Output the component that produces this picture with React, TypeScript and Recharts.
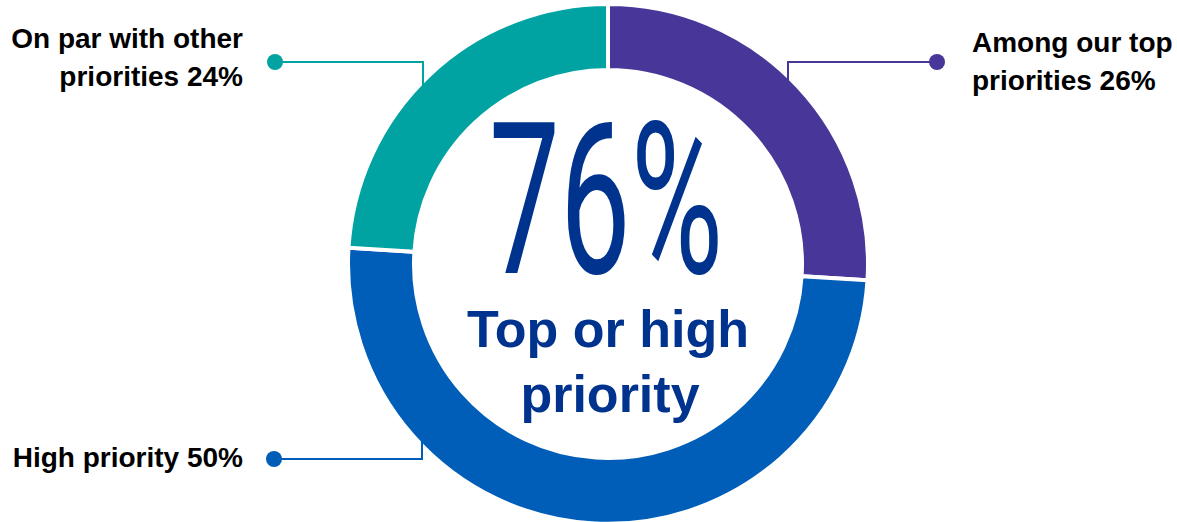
import { PieChart, Pie, Cell } from 'recharts'

const categories = ['Among our top priorities', 'High priority', 'On par with other priorities']
const shares = [26, 50, 24]
const labelLines = [
  ['Among our top', 'priorities 26%'],
  ['High priority 50%'],
  ['On par with other', 'priorities 24%'],
]
const headline = '76%'
const headlineSub = ['Top or high', 'priority']

const colors = ['#483698', '#005EB8', '#00A3A1']
const NAVY = '#00338D'

const W = 1177
const H = 522
const CX = 608
const CY = 264
const R_OUT = 260
const R_IN = 194

// callout layout per slice: elbow x offset from centre, dot offset, text side
const callouts = [
  { elbowDx: 180, dotY: 62, dotDx: 329, side: 'right', textX: 972, baselines: [52, 90] },
  { elbowDx: -186, dotY: 459, dotDx: -334, side: 'left', textX: 243, baselines: [467] },
  { elbowDx: -185, dotY: 62, dotDx: -333, side: 'left', textX: 243, baselines: [48, 86] },
]

const rows = categories.map((name, i) => ({ name, value: shares[i] }))

function renderCallout(props: any) {
  const { cx, cy, index } = props
  const c = callouts[index]
  const col = colors[index]
  const rVis = R_OUT - 2
  const ex = cx + c.elbowDx
  const dy = Math.sqrt(rVis * rVis - c.elbowDx * c.elbowDx)
  const ringY = c.dotY < cy ? cy - dy + 4 : cy + dy - 4
  const dx = cx + c.dotDx
  return (
    <g key={`callout-${index}`}>
      <polyline points={`${dx},${c.dotY} ${ex},${c.dotY} ${ex},${ringY}`} fill="none" stroke={col} strokeWidth={2} />
      <circle cx={dx} cy={c.dotY} r={8} fill={col} />
      {labelLines[index].map((t, j) => (
        <text
          key={j}
          x={c.textX}
          y={c.baselines[j]}
          textAnchor={c.side === 'left' ? 'end' : 'start'}
          fontFamily="'Liberation Sans', Arial, sans-serif"
          fontWeight={700}
          fontSize={28}
          fill="#000"
        >
          {t}
        </text>
      ))}
    </g>
  )
}

export default function App() {
  return (
    <div style={{ position: 'absolute', left: 0, top: 0, width: W, height: H, background: '#fff' }}>
      <PieChart width={W} height={H} margin={{ top: 0, right: 0, bottom: 0, left: 0 }}>
        <Pie
          data={rows}
          dataKey="value"
          nameKey="name"
          cx={CX}
          cy={CY}
          innerRadius={R_IN}
          outerRadius={R_OUT}
          startAngle={90}
          endAngle={-270}
          stroke="#fff"
          strokeWidth={4}
          label={renderCallout}
          labelLine={false}
          isAnimationActive={false}
        >
          {rows.map((r, i) => (
            <Cell key={r.name} fill={colors[i]} />
          ))}
        </Pie>
        <text
          x={CX - 2}
          y={273}
          textAnchor="middle"
          fontFamily="Roboto, sans-serif"
          fontWeight={400}
          fontSize={212}
          fill={NAVY}
          textLength={234}
          lengthAdjust="spacingAndGlyphs"
        >
          {headline}
        </text>
        {headlineSub.map((t, j) => (
          <text
            key={t}
            x={CX + (j === 0 ? 0 : 2)}
            y={347 + j * 65}
            textAnchor="middle"
            fontFamily="'Liberation Sans', Arial, sans-serif"
            fontWeight={700}
            fontSize={52}
            fill={NAVY}
          >
            {t}
          </text>
        ))}
      </PieChart>
    </div>
  )
}
